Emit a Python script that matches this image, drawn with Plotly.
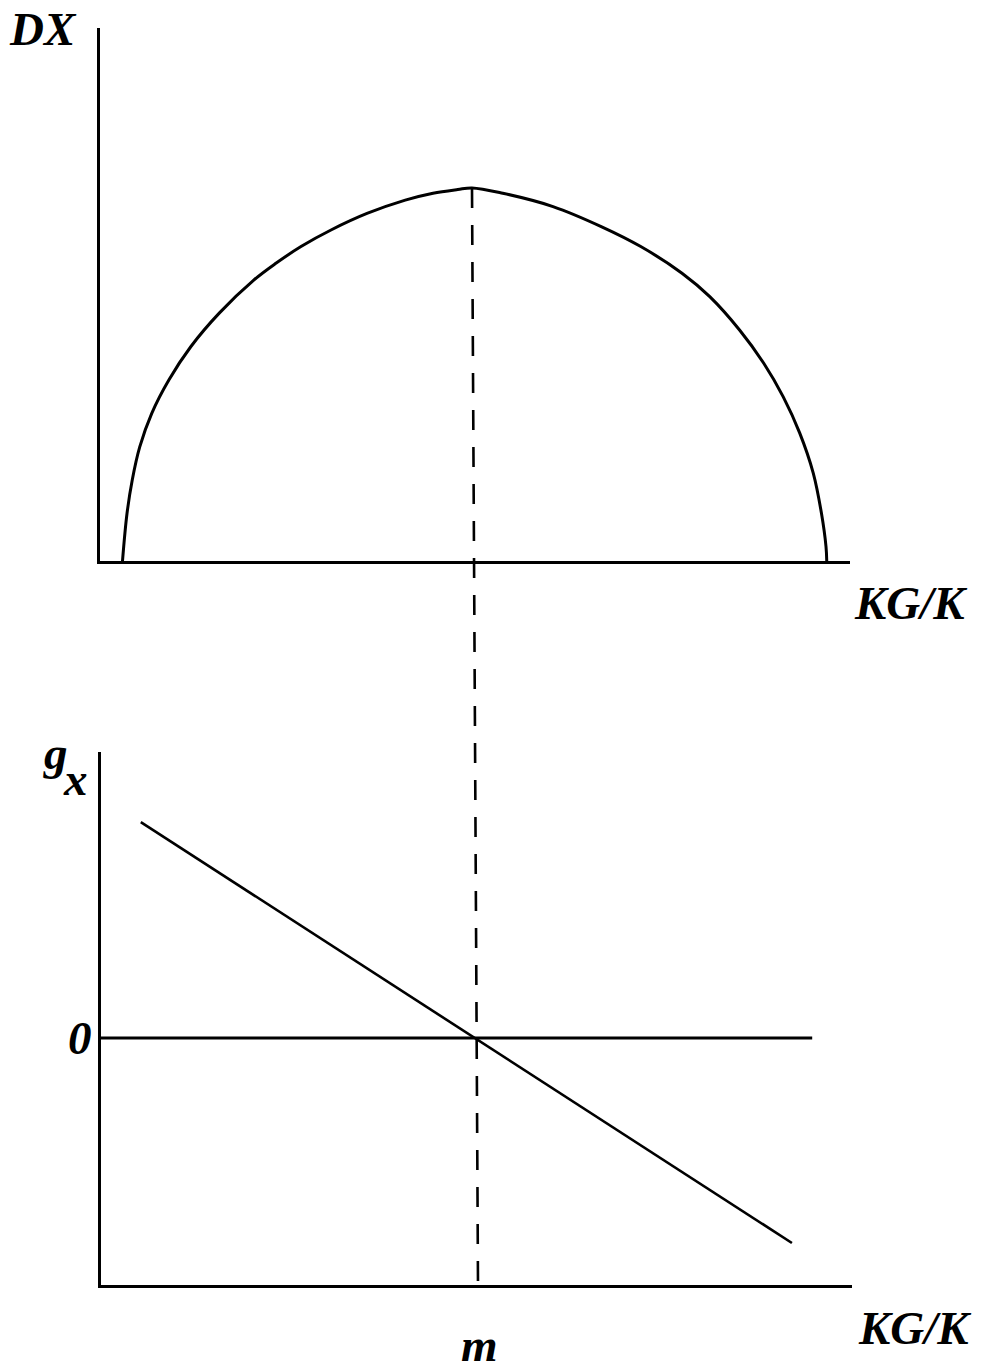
import plotly.graph_objects as go

# ---- data (axis units) ----
# top panel: DX as a function of KG/K
dx_kgk = [0.030, 0.036, 0.043, 0.053, 0.069, 0.092, 0.121, 0.159, 0.205, 0.235,
          0.268, 0.308, 0.356, 0.407, 0.444, 0.477, 0.496,
          0.537, 0.604, 0.669, 0.721, 0.776, 0.813, 0.853, 0.885, 0.911,
          0.933, 0.951, 0.962, 0.968, 0.969]
dx_vals = [0.000, 0.089, 0.152, 0.214, 0.277, 0.340, 0.402, 0.465, 0.527, 0.559,
           0.590, 0.621, 0.652, 0.677, 0.690, 0.697, 0.700,
           0.690, 0.665, 0.627, 0.590, 0.540, 0.496, 0.433, 0.371, 0.308,
           0.240, 0.165, 0.089, 0.027, 0.000]
peak_x, peak_y = 0.496, 0.700

# bottom panel: g_x as a function of KG/K
gx_kgk = [0.053, 0.920]
gx_vals = [0.874, -0.830]
zero_kgk = [0.0, 0.947]
zero_vals = [0.0, 0.0]
m_x = 0.504

# axis labels
lbl_top_y = "DX"
lbl_x = "KG/K"
lbl_bot_y_main = "g"
lbl_bot_y_sub = "x"
lbl_zero = "0"
lbl_m = "m"

W, H = 981, 1372
top_xdom = [100 / W, 850 / W]
top_ydom = [1 - 561 / H, 1 - 28 / H]
bot_xdom = [101 / W, 852 / W]
bot_ydom = [1 - 1285 / H, 1 - 752 / H]
bot_yrange = [-1.0, 1.158]

FONT = dict(family="Liberation Serif, Times New Roman, serif", size=47,
            color="black", weight="bold", style="italic")

fig = go.Figure()
fig.add_trace(go.Scatter(x=dx_kgk, y=dx_vals, mode="lines",
                         line=dict(color="black", width=3, shape="spline", smoothing=1.0),
                         xaxis="x", yaxis="y", showlegend=False, hoverinfo="skip"))
fig.add_trace(go.Scatter(x=zero_kgk, y=zero_vals, mode="lines",
                         line=dict(color="black", width=3), xaxis="x2", yaxis="y2",
                         showlegend=False, hoverinfo="skip"))
fig.add_trace(go.Scatter(x=gx_kgk, y=gx_vals, mode="lines",
                         line=dict(color="black", width=2.6), xaxis="x2", yaxis="y2",
                         showlegend=False, hoverinfo="skip"))

ax = dict(showline=True, linecolor="black", linewidth=2.6, showgrid=False,
          zeroline=False, showticklabels=False, ticks="", fixedrange=True)

peak_paper = top_ydom[0] + peak_y * (top_ydom[1] - top_ydom[0])

fig.update_layout(
    width=W, height=H,
    margin=dict(l=0, r=0, t=0, b=0),
    paper_bgcolor="white", plot_bgcolor="white",
    xaxis=dict(ax, domain=top_xdom, range=[0, 1], anchor="y"),
    yaxis=dict(ax, domain=top_ydom, range=[0, 1], anchor="x"),
    xaxis2=dict(ax, domain=bot_xdom, range=[0, 1], anchor="y2"),
    yaxis2=dict(ax, domain=bot_ydom, range=bot_yrange, anchor="x2"),
    shapes=[dict(type="line", xref="x", yref="paper",
                 x0=peak_x, y0=peak_paper, x1=m_x, y1=bot_ydom[0],
                 line=dict(color="black", width=2.6, dash="20px,17px"))],
    annotations=[
        dict(text=lbl_top_y, xref="paper", yref="paper", x=43 / W, y=1 - 29 / H,
             showarrow=False, font=FONT, xanchor="center", yanchor="middle"),
        dict(text=lbl_x, xref="paper", yref="paper", x=910 / W, y=1 - 603 / H,
             showarrow=False, font=FONT, xanchor="center", yanchor="middle"),
        dict(text=lbl_bot_y_main, xref="paper", yref="paper", x=55 / W, y=1 - 753 / H,
             showarrow=False, font=FONT, xanchor="center", yanchor="middle"),
        dict(text=lbl_bot_y_sub, xref="paper", yref="paper", x=75 / W, y=1 - 779 / H,
             showarrow=False, font=FONT, xanchor="center", yanchor="middle"),
        dict(text=lbl_zero, xref="paper", yref="y2", x=80 / W, y=0,
             showarrow=False, font=FONT, xanchor="center", yanchor="middle"),
        dict(text=lbl_m, xref="x2", yref="paper", x=m_x, y=1 - 1345 / H,
             showarrow=False, font=FONT, xanchor="center", yanchor="middle"),
        dict(text=lbl_x, xref="paper", yref="paper", x=914 / W, y=1 - 1328 / H,
             showarrow=False, font=FONT, xanchor="center", yanchor="middle"),
    ],
)

fig.write_html("out.html", config={"displayModeBar": False},
               post_script="document.body.style.margin='0px';document.body.style.padding='0px';")
